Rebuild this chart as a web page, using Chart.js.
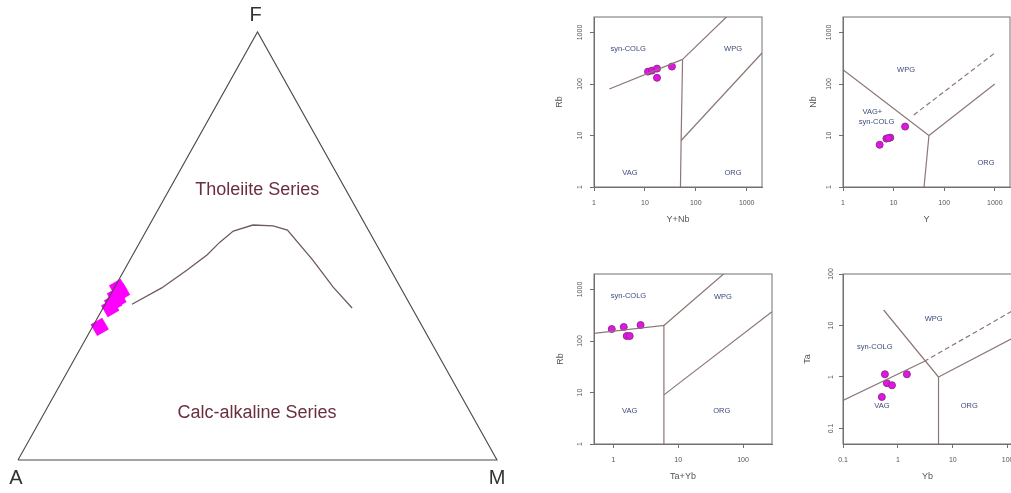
<!DOCTYPE html>
<html>
<head>
<meta charset="utf-8">
<script src="https://cdn.jsdelivr.net/npm/chart.js@4.4.0/dist/chart.umd.min.js"></script>
<style>
  html, body { margin: 0; padding: 0; background: #fff; }
  #wrap { position: relative; width: 1011px; height: 493px; overflow: hidden; }
  canvas { position: absolute; }
</style>
</head>
<body>
<div id="wrap">
  <canvas id="afm" width="540" height="493" style="left:0;top:0"></canvas>
</div>
<script>
// ---- AFM ternary, values as [A, F, M] in % ----
const afmVertexNames = ["A", "F", "M"];
const afmVertices = [[100, 0, 0], [0, 100, 0], [0, 0, 100]];
const afmBoundary = [
  [58.0, 36.4, 5.6], [49.9, 40.2, 9.9], [42.5, 44.4, 13.1], [36.6, 47.9, 15.5],
  [32.4, 50.9, 16.7], [28.3, 53.5, 18.2], [23.5, 54.9, 21.6], [19.4, 54.7, 25.9],
  [16.9, 53.7, 29.4], [15.1, 46.7, 38.2], [14.0, 40.4, 45.6], [12.5, 35.5, 52.0]
];
const afmSamples = [
  [67.4, 31.1, 1.5], [63.0, 35.5, 1.5], [61.8, 36.7, 1.5], [60.5, 37.5, 2.0],
  [60.4, 38.3, 1.3], [58.9, 39.2, 1.9], [59.0, 40.2, 0.8]
];
const afmFieldNames = ["Tholeiite Series", "Calc-alkaline Series"];
const afmFieldPos = [[18.5, 63.1, 18.4], [44.6, 11.0, 44.4]];

// ---- Rb vs Y+Nb ----
const rbYnbSamples = [[11.5, 174], [13.8, 182], [17.3, 199], [17.3, 132], [34, 218]];
const rbYnbLines = [
  [[2, 80], [55, 300]],
  [[55, 300], [51.5, 8], [50, 1]],
  [[51.5, 8], [2000, 400]],
  [[55, 300], [400, 2000]]
];
const rbYnbFields = ["syn-COLG", "WPG", "VAG", "ORG"];
const rbYnbFieldPos = [[4.7, 490], [540, 490], [5.1, 1.9], [540, 1.9]];
const rbYnbXTicks = [1, 10, 100, 1000];
const rbYnbYTicks = [1, 10, 100, 1000];

// ---- Nb vs Y ----
const nbYSamples = [[16.9, 14.9], [5.3, 6.6], [7.2, 8.7], [8.6, 9.1], [7.9, 8.9]];
const nbYLines = [
  [[1, 190], [50, 10], [40, 1]],
  [[50, 10], [1000, 100]]
];
const nbYDashed = [[[25, 25], [1000, 400]]];
const nbYFields = ["WPG", "VAG+", "syn-COLG", "ORG"];
const nbYFieldPos = [[17.6, 185], [3.8, 29], [4.6, 18.6], [670, 2.9]];
const nbYXTicks = [1, 10, 100, 1000];
const nbYYTicks = [1, 10, 100, 1000];

// ---- Rb vs Ta+Yb ----
const rbTaYbSamples = [[0.94, 171], [1.44, 187], [1.6, 125], [1.78, 125], [2.62, 204]];
const rbTaYbLines = [
  [[0.5, 140], [6, 200], [6, 1]],
  [[6, 200], [50, 2000]],
  [[6, 9], [280, 370]]
];
const rbTaYbFields = ["syn-COLG", "WPG", "VAG", "ORG"];
const rbTaYbFieldPos = [[1.7, 750], [49, 720], [1.78, 4.4], [47, 4.4]];
const rbTaYbXTicks = [1, 10, 100];
const rbTaYbYTicks = [1, 10, 100, 1000];

// ---- Ta vs Yb ----
const taYbSamples = [[0.58, 1.13], [1.46, 1.13], [0.63, 0.76], [0.78, 0.69], [0.51, 0.41]];
const taYbLines = [
  [[0.1, 0.35], [3, 2]],
  [[0.55, 20], [5.5, 1], [5.5, 0.05]],
  [[5.5, 1], [120, 5.6]]
];
const taYbDashed = [[[3, 2], [120, 19]]];
const taYbFields = ["WPG", "syn-COLG", "VAG", "ORG"];
const taYbFieldPos = [[4.5, 13.7], [0.38, 3.8], [0.51, 0.28], [20, 0.28]];
const taYbXTicks = [0.1, 1, 10, 100];
const taYbYTicks = [0.1, 1, 10, 100];

Chart.defaults.font.family = '"Liberation Sans", Arial, sans-serif';
const axisColor = '#707070';
const textColor = '#555';
const lineColor = '#8d7676';
const fieldColor = '#3c4a7c';
const sampleFill = '#e514e5';
const sampleEdge = '#8e2c8e';

// draws text at data coordinates
function makeTextPlugin(items) {
  return {
    id: 'fieldText',
    afterDatasetsDraw(chart) {
      const { ctx, scales: { x, y } } = chart;
      ctx.save();
      ctx.textAlign = 'center';
      ctx.textBaseline = 'middle';
      items.forEach(it => {
        ctx.font = it.font;
        ctx.fillStyle = it.color;
        ctx.fillText(it.text, x.getPixelForValue(it.x) + (it.dx || 0), y.getPixelForValue(it.y) + (it.dy || 0));
      });
      ctx.restore();
    }
  };
}

const framePlugin = {
  id: 'frame',
  afterDraw(chart) {
    const { ctx, chartArea: a } = chart;
    ctx.save();
    ctx.strokeStyle = axisColor;
    ctx.lineWidth = 1;
    ctx.strokeRect(a.left, a.top, a.right - a.left, a.bottom - a.top);
    ctx.restore();
  }
};

// ternary -> cartesian
const toXY = ([a, f, m]) => ({ x: m + f / 2, y: f });

// AFM chart
const vertexOffsets = [[-2, 18], [-2, -17], [0, 18]];
const afmText = afmFieldNames.map((t, i) => ({
  text: t, ...toXY(afmFieldPos[i]), font: '18px "Liberation Sans", Arial', color: '#6a2f3e'
})).concat(afmVertexNames.map((t, i) => ({
  text: t, ...toXY(afmVertices[i]), dx: vertexOffsets[i][0], dy: vertexOffsets[i][1],
  font: '20px "Liberation Sans", Arial', color: '#333'
})));

new Chart(document.getElementById('afm'), {
  type: 'scatter',
  data: {
    datasets: [
      { data: afmVertices.concat([afmVertices[0]]).map(toXY), showLine: true, borderColor: '#4a4a4a', borderWidth: 1.1, pointRadius: 0, clip: false },
      { data: afmBoundary.map(toXY), showLine: true, borderColor: '#6e5a5a', borderWidth: 1.3, pointRadius: 0, clip: false },
      { data: afmSamples.map(toXY), pointStyle: 'rect', rotation: 60, pointRadius: 9.5, backgroundColor: '#ff00ff', borderColor: '#ff00ff', borderWidth: 0, clip: false }
    ]
  },
  options: {
    responsive: false,
    animation: false,
    events: [],
    layout: { padding: { left: 18, right: 43, top: 32, bottom: 33 } },
    scales: {
      x: { type: 'linear', min: 0, max: 100, display: false },
      y: { type: 'linear', min: 0, max: 100, display: false }
    },
    plugins: { legend: { display: false }, tooltip: { enabled: false } }
  },
  plugins: [makeTextPlugin(afmText)]
});

// log-log discrimination plots
function logPlot(frame, cfg) {
  const cv = document.createElement('canvas');
  cv.width = frame.right - frame.left + 60;
  cv.height = frame.bottom - frame.top + 55;
  cv.style.left = (frame.left - 50) + 'px';
  cv.style.top = (frame.top - 10) + 'px';
  document.getElementById('wrap').appendChild(cv);

  const seg = (pts, dash) => ({
    data: pts.map(([x, y]) => ({ x, y })), showLine: true, borderColor: lineColor,
    borderWidth: 1.2, borderDash: dash, pointRadius: 0
  });
  const datasets = [
    ...cfg.lines.map(p => seg(p, [])),
    ...(cfg.dashed || []).map(p => seg(p, [5, 3])),
    { data: cfg.samples.map(([x, y]) => ({ x, y })), pointRadius: 3.5, backgroundColor: sampleFill, borderColor: sampleEdge, borderWidth: 1 }
  ];
  const labels = cfg.fields.map((t, i) => ({
    text: t, x: cfg.fieldPos[i][0], y: cfg.fieldPos[i][1], font: '7.5px "Liberation Sans", Arial', color: fieldColor
  }));
  const tickFont = { size: 7 };
  const grid = { drawOnChartArea: false, drawTicks: true, tickLength: 4, color: axisColor };

  new Chart(cv, {
    type: 'scatter',
    data: { datasets },
    options: {
      responsive: false,
      animation: false,
      events: [],
      layout: { padding: { top: 10, right: 10, left: 0, bottom: 0 } },
      scales: {
        x: {
          type: 'logarithmic', min: cfg.xRange[0], max: cfg.xRange[1],
          afterBuildTicks: s => { s.ticks = cfg.xTicks.map(v => ({ value: v })); },
          afterFit: s => { s.height = 45; },
          ticks: { callback: v => String(v), font: tickFont, color: textColor, padding: 8, autoSkip: false, maxRotation: 0 },
          grid, border: { color: axisColor },
          title: { display: true, text: cfg.xTitle, font: { size: 9 }, color: textColor, padding: { top: 0, bottom: 6.6 } }
        },
        y: {
          type: 'logarithmic', min: cfg.yRange[0], max: cfg.yRange[1],
          afterBuildTicks: s => { s.ticks = cfg.yTicks.map(v => ({ value: v })); },
          afterFit: s => { s.width = 50; },
          ticks: { callback: v => String(v), font: tickFont, color: textColor, padding: 2, autoSkip: false, minRotation: 90, maxRotation: 90, crossAlign: 'center' },
          grid, border: { color: axisColor },
          title: { display: true, text: cfg.yTitle, font: { size: 9 }, color: textColor, padding: { top: 50 - cfg.yTitleGap - 5.4, bottom: 0 } }
        }
      },
      plugins: { legend: { display: false }, tooltip: { enabled: false } }
    },
    plugins: [makeTextPlugin(labels), framePlugin]
  });
}

logPlot({ left: 594, top: 17, right: 762, bottom: 187 }, {
  samples: rbYnbSamples, lines: rbYnbLines, fields: rbYnbFields, fieldPos: rbYnbFieldPos,
  xRange: [1, 2000], yRange: [1, 2000], xTicks: rbYnbXTicks, yTicks: rbYnbYTicks,
  xTitle: 'Y+Nb', yTitle: 'Rb', yTitleGap: 34
});
logPlot({ left: 843, top: 17, right: 1010, bottom: 187 }, {
  samples: nbYSamples, lines: nbYLines, dashed: nbYDashed, fields: nbYFields, fieldPos: nbYFieldPos,
  xRange: [1, 2000], yRange: [1, 2000], xTicks: nbYXTicks, yTicks: nbYYTicks,
  xTitle: 'Y', yTitle: 'Nb', yTitleGap: 29
});
logPlot({ left: 594, top: 274, right: 772, bottom: 444 }, {
  samples: rbTaYbSamples, lines: rbTaYbLines, fields: rbTaYbFields, fieldPos: rbTaYbFieldPos,
  xRange: [0.5, 280], yRange: [1, 2000], xTicks: rbTaYbXTicks, yTicks: rbTaYbYTicks,
  xTitle: 'Ta+Yb', yTitle: 'Rb', yTitleGap: 33
});
logPlot({ left: 843, top: 274, right: 1012, bottom: 444 }, {
  samples: taYbSamples, lines: taYbLines, dashed: taYbDashed, fields: taYbFields, fieldPos: taYbFieldPos,
  xRange: [0.1, 120], yRange: [0.05, 100], xTicks: taYbXTicks, yTicks: taYbYTicks,
  xTitle: 'Yb', yTitle: 'Ta', yTitleGap: 35
});
</script>
</body>
</html>
